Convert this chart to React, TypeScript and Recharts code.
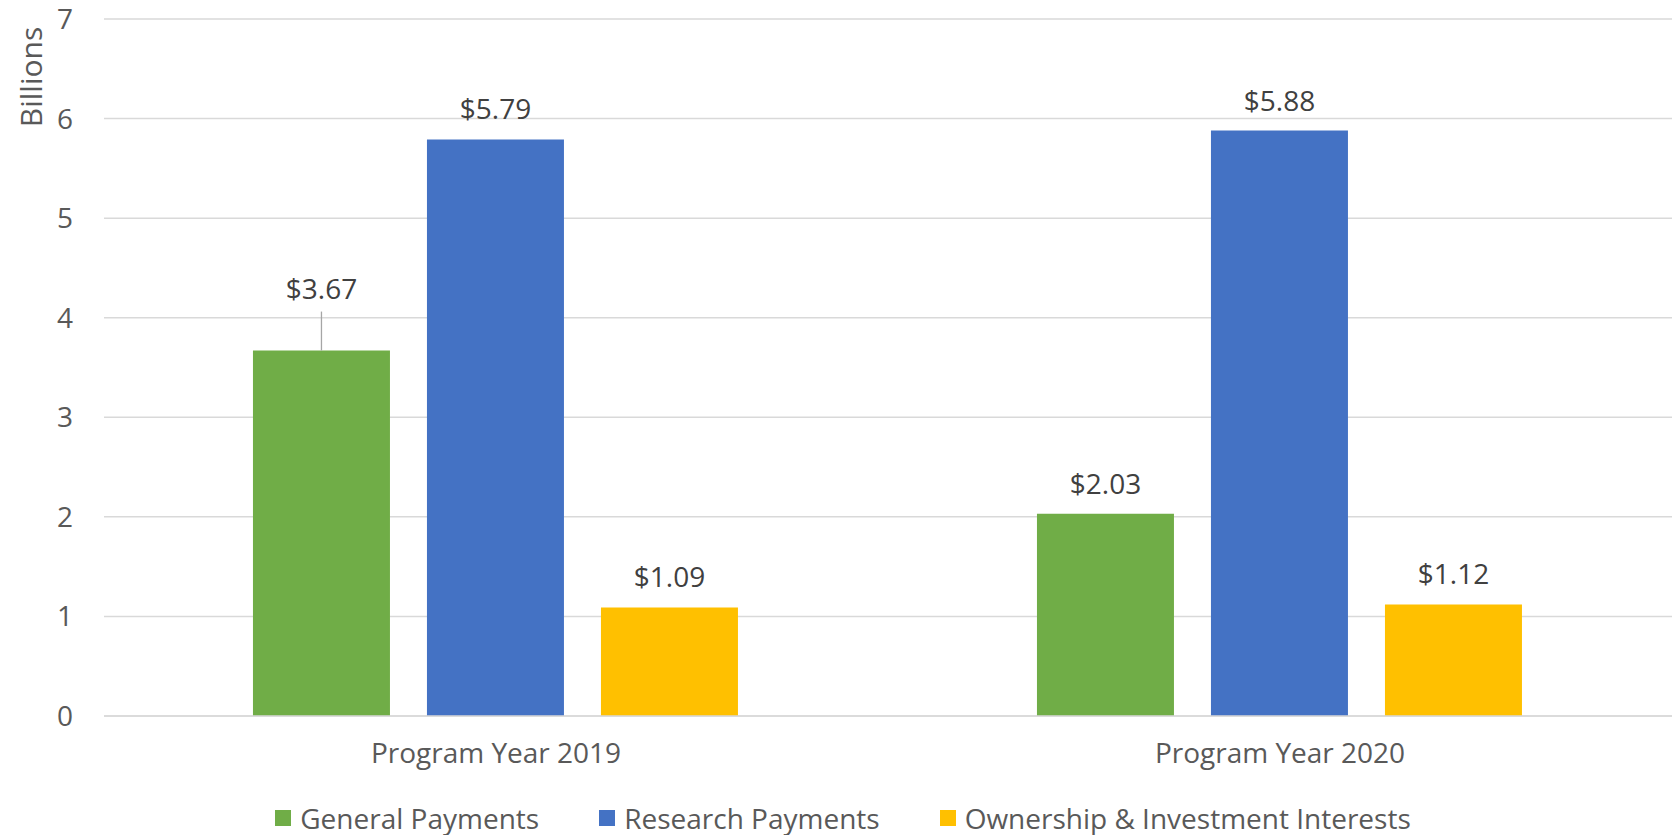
import { BarChart, Bar, XAxis, YAxis, CartesianGrid, LabelList, Legend } from "recharts"

const years = ["Program Year 2019", "Program Year 2020"]
const general = [3.67, 2.03]
const research = [5.79, 5.88]
const ownership = [1.09, 1.12]
const yTicks = [0, 1, 2, 3, 4, 5, 6, 7]

const SERIES = [
  { key: "general", name: "General Payments", color: "#70AD47" },
  { key: "research", name: "Research Payments", color: "#4472C4" },
  { key: "ownership", name: "Ownership & Investment Interests", color: "#FFC000" },
]

const FONT = "'Open Sans', sans-serif"
const FS = 28

const data = years.map((year, i) => ({
  year,
  general: general[i],
  research: research[i],
  ownership: ownership[i],
}))

// value label above a bar; the first green one sits higher with a leader line
function ValueLabel(props: any, lifted: boolean) {
  const { x, y, width, value } = props
  const cx = x + width / 2
  const text = `$${Number(value).toFixed(2)}`
  if (lifted) {
    return (
      <g>
        <line x1={cx} y1={y} x2={cx} y2={y - 39} stroke="#a6a6a6" strokeWidth={1.3} />
        <text x={cx} y={y - 63} textAnchor="middle" dominantBaseline="central"
          style={{ fontSize: FS, fill: "#404040", fontFamily: FONT }}>
          {text}
        </text>
      </g>
    )
  }
  return (
    <text x={cx} y={y - 31} textAnchor="middle" dominantBaseline="central"
      style={{ fontSize: FS, fill: "#404040", fontFamily: FONT }}>
      {text}
    </text>
  )
}

function LegendRow() {
  return (
    <div style={{ display: "flex", justifyContent: "center", height: 30, alignItems: "center", paddingLeft: 14, fontFamily: FONT, fontSize: FS, color: "#595959" }}>
      {SERIES.map((s) => (
        <div key={s.key} style={{ display: "flex", alignItems: "center", margin: "0 30px" }}>
          <span style={{ width: 16, height: 16, background: s.color, display: "inline-block", marginRight: 9 }} />
          <span>{s.name}</span>
        </div>
      ))}
    </div>
  )
}

export default function App() {
  return (
    <div style={{ width: 1675, height: 835, background: "#fff" }}>
      <style>{`body{margin:0}`}</style>
      <BarChart
        width={1675}
        height={835}
        data={data}
        margin={{ top: 19, right: 3, left: 0, bottom: 2 }}
        barCategoryGap="19%"
        barGap={37}
      >
        <CartesianGrid vertical={false} stroke="#d9d9d9" strokeWidth={1.5} />
        <XAxis
          dataKey="year"
          height={87}
          axisLine={{ stroke: "#d9d9d9", strokeWidth: 1.5 }}
          tickLine={false}
          tickSize={0}
          tickMargin={27}
          tick={{ fontSize: FS, fill: "#595959", fontFamily: FONT }}
        />
        <YAxis
          width={104}
          domain={[0, 7]}
          ticks={yTicks}
          axisLine={false}
          tickLine={false}
          tickSize={0}
          tickMargin={31}
          tick={{ fontSize: FS, fill: "#595959", fontFamily: FONT }}
          label={{
            content: () => (
              <text x={30} y={77} transform="rotate(-90 30 77)" textAnchor="middle" dominantBaseline="central"
                style={{ fontSize: 30, fill: "#595959", fontFamily: FONT }}>
                Billions
              </text>
            ),
          }}
        />
        <Legend verticalAlign="bottom" content={() => <LegendRow />} />
        {SERIES.map((s) => (
          <Bar key={s.key} dataKey={s.key} name={s.name} fill={s.color} isAnimationActive={false}>
            <LabelList
              dataKey={s.key}
              content={(p: any) => ValueLabel(p, s.key === "general" && p.index === 0)}
            />
          </Bar>
        ))}
      </BarChart>
    </div>
  )
}
